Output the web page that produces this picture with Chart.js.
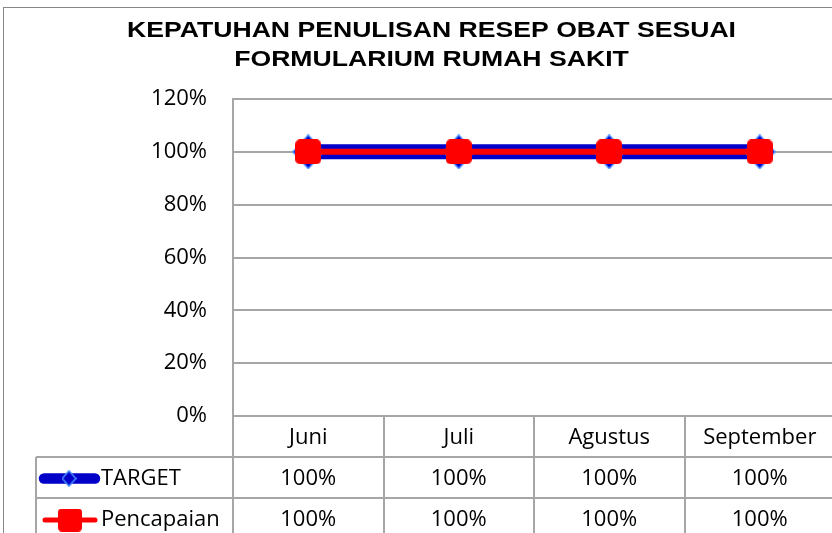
<!DOCTYPE html>
<html><head><meta charset="utf-8">
<script src="https://cdn.jsdelivr.net/npm/chart.js@4.4.0/dist/chart.umd.min.js"></script>
<style>
html,body{margin:0;padding:0;background:#fff;overflow:hidden;width:832px;height:533px;}
#wrap{position:absolute;left:0;top:0;width:860px;height:560px;}
canvas{display:block;}
</style></head><body>
<div id="wrap"><canvas id="c" width="860" height="560" style="width:860px;height:560px"></canvas></div>
<script>
const titleLines = ['KEPATUHAN PENULISAN RESEP OBAT SESUAI', 'FORMULARIUM RUMAH SAKIT'];
const categories = ['Juni', 'Juli', 'Agustus', 'September'];
const seriesNames = ['TARGET', 'Pencapaian'];
const targetValues = [100, 100, 100, 100];
const pencapaianValues = [100, 100, 100, 100];
const yMin = 0, yMax = 120, yStep = 20;

const BLUE = '#0000c8', LBLUE = '#4a8cff', RED = '#ff0000', GRID = '#a6a6a6';
const FONT = '"Open Sans", "Liberation Sans", sans-serif';

function diamondImg(w, h, lw) {
  const c = document.createElement('canvas'); c.width = w; c.height = h;
  const x = c.getContext('2d');
  x.beginPath();
  x.moveTo(w / 2, lw / 2); x.lineTo(w - lw / 2, h / 2); x.lineTo(w / 2, h - lw / 2); x.lineTo(lw / 2, h / 2);
  x.closePath(); x.fillStyle = BLUE; x.fill();
  x.strokeStyle = LBLUE; x.lineWidth = lw; x.stroke();
  return c;
}
function roundSqImg(w, h, r) {
  const c = document.createElement('canvas'); c.width = w; c.height = h;
  const x = c.getContext('2d');
  x.beginPath(); x.roundRect(0, 0, w, h, r); x.fillStyle = RED; x.fill();
  return c;
}
const diamondBig = diamondImg(32, 35, 1.5);
const squareBig = roundSqImg(26, 25, 5);
const diamondSmall = diamondImg(15, 17, 1.5);
const squareSmall = roundSqImg(24, 23, 4);

const pct = v => v + '%';

const decorPlugin = {
  id: 'decor',
  beforeDraw(chart) {
    const ctx = chart.ctx;
    ctx.save();
    ctx.strokeStyle = '#878787'; ctx.lineWidth = 1;
    ctx.strokeRect(3.5, 7.5, 854, 560);
    ctx.fillStyle = '#000';
    ctx.font = 'bold 22px "Liberation Sans", Arial, sans-serif';
    ctx.textAlign = 'center'; ctx.textBaseline = 'alphabetic';
    const w0 = ctx.measureText(titleLines[0]).width;
    const sx = 609 / w0;
    const baselines = [37, 65.5];
    titleLines.forEach((t, i) => {
      ctx.save(); ctx.translate(431.5, baselines[i]); ctx.scale(sx, 1);
      ctx.fillText(t, 0, 0); ctx.restore();
    });
    ctx.restore();
  },
  afterDraw(chart) {
    const ctx = chart.ctx, xs = chart.scales.x, ca = chart.chartArea;
    const n = categories.length;
    const cw = (ca.right - ca.left) / n;
    const rowH = 41, tableLeft = 36;
    const top = ca.bottom;
    const rows = [top + rowH, top + 2 * rowH, top + 3 * rowH];
    ctx.save();
    ctx.strokeStyle = GRID; ctx.lineWidth = 2;
    ctx.beginPath();
    for (let i = 0; i <= n; i++) {
      const x = Math.round(ca.left + i * cw);
      ctx.moveTo(x, i === 0 ? ca.top : top); ctx.lineTo(x, rows[2]);
    }
    ctx.moveTo(tableLeft, rows[0]); ctx.lineTo(tableLeft, rows[2]);
    rows.forEach(y => { ctx.moveTo(tableLeft, y); ctx.lineTo(ca.right, y); });
    ctx.stroke();

    ctx.fillStyle = '#000'; ctx.font = '22px ' + FONT;
    ctx.textAlign = 'center'; ctx.textBaseline = 'middle';
    categories.forEach((c, i) => ctx.fillText(xs.getLabelForValue(i), xs.getPixelForValue(i), top + rowH / 2 + 1.5));
    const seriesVals = [targetValues, pencapaianValues];
    seriesVals.forEach((vals, r) => {
      const yc = top + rowH * (r + 1) + rowH / 2 + 1.5;
      vals.forEach((v, i) => ctx.fillText(pct(v), xs.getPixelForValue(i), yc));
    });
    ctx.textAlign = 'left';
    seriesNames.forEach((s, r) => {
      const yc = top + rowH * (r + 1) + rowH / 2 + 1.5;
      ctx.fillText(s, 101, yc);
    });
    const y1 = top + rowH * 1.5 + 1;
    ctx.lineCap = 'round';
    ctx.strokeStyle = BLUE; ctx.lineWidth = 10.5;
    ctx.beginPath(); ctx.moveTo(44, y1); ctx.lineTo(95, y1); ctx.stroke();
    ctx.drawImage(diamondSmall, 69 - diamondSmall.width / 2, y1 - diamondSmall.height / 2);
    const y2 = top + rowH * 2.5 + 1.5;
    ctx.strokeStyle = RED; ctx.lineWidth = 5;
    ctx.beginPath(); ctx.moveTo(45, y2); ctx.lineTo(95, y2); ctx.stroke();
    ctx.drawImage(squareSmall, 70 - squareSmall.width / 2, y2 - squareSmall.height / 2);
    ctx.restore();
  }
};

new Chart(document.getElementById('c'), {
  type: 'line',
  data: {
    labels: categories,
    datasets: [
      {
        label: seriesNames[0], data: targetValues, order: 1,
        borderColor: BLUE, backgroundColor: BLUE, borderWidth: 15,
        pointStyle: diamondBig, pointRadius: 16, tension: 0, fill: false
      },
      {
        label: seriesNames[1], data: pencapaianValues, order: 0,
        borderColor: RED, backgroundColor: RED, borderWidth: 6,
        pointStyle: squareBig, pointRadius: 13, tension: 0, fill: false
      }
    ]
  },
  options: {
    responsive: false, animation: false, devicePixelRatio: 1, events: [],
    layout: { autoPadding: false, padding: { top: 99, left: 0, right: 25, bottom: 0 } },
    plugins: { legend: { display: false }, tooltip: { enabled: false }, title: { display: false } },
    scales: {
      x: {
        offset: true,
        grid: { display: false, drawTicks: false },
        border: { display: true, color: GRID, width: 2 },
        ticks: { display: false },
        afterFit(s) { s.height = 144; }
      },
      y: {
        min: yMin, max: yMax,
        grid: { color: GRID, lineWidth: 2, drawTicks: false },
        border: { display: true, color: GRID, width: 2 },
        ticks: { stepSize: yStep, callback: v => pct(v), color: '#000', font: { family: FONT, size: 22 }, padding: 26 },
        afterFit(s) { s.width = 233; }
      }
    }
  },
  plugins: [decorPlugin]
});
</script>
</body></html>
